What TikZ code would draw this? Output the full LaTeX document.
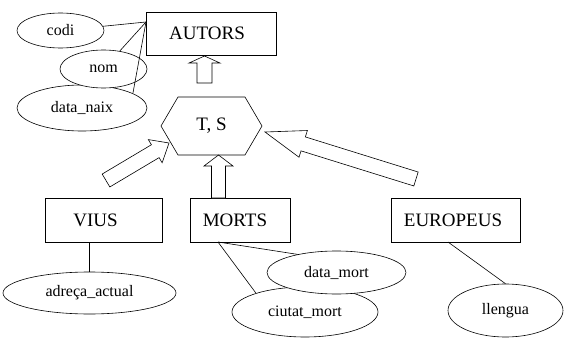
\documentclass[tikz,border=0pt]{standalone}
\usepackage{fontspec}
\setmainfont{Liberation Serif}
\usetikzlibrary{shapes.geometric, calc}

\tikzstyle{ent}  = [rectangle, draw, line width=0.7pt, outer sep=0pt, minimum height=44pt,
                    font=\fontsize{19}{22}\selectfont]
\tikzstyle{attr} = [ellipse, draw, fill=white, line width=0.6pt, inner sep=0pt,
                    font=\fontsize{16}{19}\selectfont]
\tikzstyle{link} = [line width=0.6pt]
\tikzstyle{blk}  = [draw, fill=white, line width=0.6pt, line join=miter]

% hollow block arrow: tail, tip, shaft half width, head half width, head length
\newcommand{\blockarrow}[5]{%
  \coordinate (ba) at ($(#2)!#5!(#1)$);
  \draw[blk] ($(#1)!#3!-90:(#2)$) -- ($(ba)!#3!-90:(#2)$) -- ($(ba)!#4!-90:(#2)$)
    -- (#2) -- ($(ba)!#4!90:(#2)$) -- ($(ba)!#3!90:(#2)$) -- ($(#1)!#3!90:(#2)$) -- cycle;
}

\begin{document}
\begin{tikzpicture}[x=1pt, y=-1pt]
    \useasboundingbox (0,0) rectangle (566,340);

    % entities
    \node[ent, minimum width=130pt, minimum height=43pt] (autors) at (211,33.5) {AUTORS\hspace*{8pt}};
    \node[ent, minimum width=117pt] (vius)     at (103.5,220) {VIUS\hspace*{16pt}};
    \node[ent, minimum width=100pt] (morts)    at (240,220)   {MORTS\hspace*{10pt}};
    \node[ent, minimum width=129pt] (europeus) at (455.5,220) {EUROPEUS\hspace*{5pt}};

    % T, S
    \node[rectangle, outer sep=0pt, minimum width=101pt, minimum height=58pt,
          font=\fontsize{19}{22}\selectfont] (hex) at (211.5,126) {T, S};
    \draw[link] (hex.west) -- ([xshift=17pt]hex.north west) -- ([xshift=-17pt]hex.north east)
        -- (hex.east) -- ([xshift=-17pt]hex.south east) -- ([xshift=17pt]hex.south west) -- cycle;

    % attributes
    \node[attr, minimum width=130pt, minimum height=46pt] (naix)    at (82,108)      {data\_naix};
    \node[attr, minimum width=87pt,  minimum height=38pt] (nom)     at (103.5,69)    {nom};
    \node[attr, minimum width=87pt,  minimum height=35pt] (codi)    at (60.5,30.5)   {codi};
    \node[attr, minimum width=173pt, minimum height=42pt] (adreca)  at (89.5,293)    {adreça\_actual};
    \node[attr, minimum width=146pt, minimum height=50pt] (ciutat)  at (305,312)     {ciutat\_mort};
    \node[attr, minimum width=139pt, minimum height=43pt] (dmort)   at (336.5,272.5) {data\_mort};
    \node[attr, minimum width=115pt, minimum height=53pt] (llengua) at (505.5,310.5) {llengua};

    \draw[link] ([yshift=-10pt]autors.north west) -- (codi);
    \draw[link] ([yshift=-10pt]autors.north west) -- (nom);
    \draw[link] ([yshift=-10pt]autors.north west) -- (naix.16);
    \draw[link] ([xshift=-14pt]vius.south) -- (adreca.north);
    \draw[link] ([xshift=28pt]morts.south west) -- (dmort.155);
    \draw[link] ([xshift=28pt]morts.south west) -- (ciutat.159);
    \draw[link] ([xshift=-7.5pt]europeus.south) -- (llengua.north);

    % generalisation arrows
    \coordinate (atail) at ([xshift=-7pt,yshift=14pt]hex.north);
    \coordinate (atip)  at ([xshift=-6.5pt,yshift=-1pt]autors.south);
    \coordinate (mtail) at ([xshift=-21.5pt]morts.north);
    \coordinate (mtip)  at ([xshift=7pt]hex.south);
    \coordinate (vtail) at (106,180.5);
    \coordinate (vtip)  at (169,143);
    \coordinate (etail) at (416,179);
    \coordinate (etip)  at (265,132);
    \blockarrow{atail}{atip}{7.5pt}{15.5pt}{7pt}
    \blockarrow{mtail}{mtip}{7pt}{14.5pt}{11pt}
    \blockarrow{vtail}{vtip}{7.5pt}{13.5pt}{16pt}
    \blockarrow{etail}{etip}{7.3pt}{14pt}{40pt}
\end{tikzpicture}
\end{document}
